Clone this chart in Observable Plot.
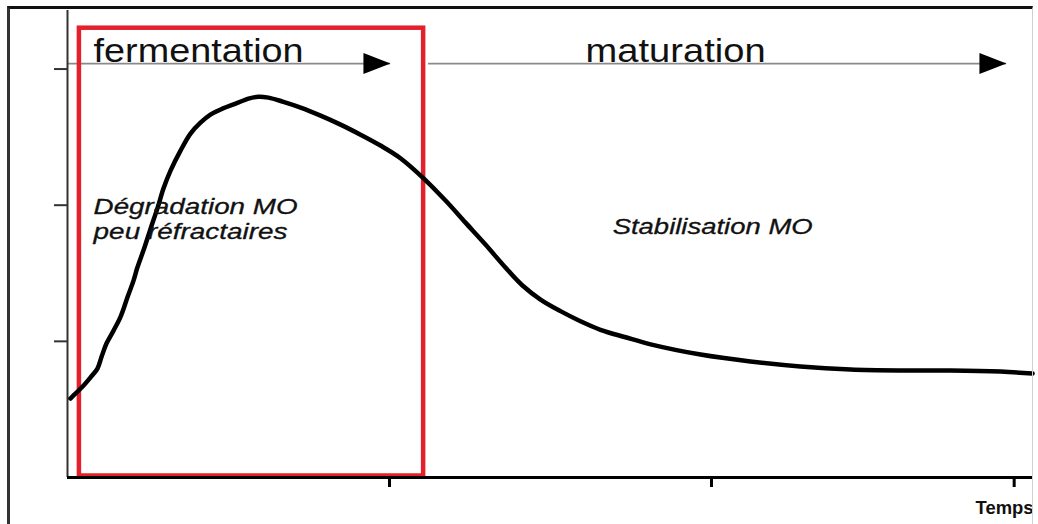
<!DOCTYPE html>
<html>
<head>
<meta charset="utf-8">
<script src="https://cdn.jsdelivr.net/npm/d3@7"></script>
<script src="https://cdn.jsdelivr.net/npm/@observablehq/plot@0.6"></script>
<style>
  html, body { margin: 0; padding: 0; background: #fff; overflow: hidden; }
  #wrap { position: relative; width: 1038px; height: 524px; }
  #frame { position: absolute; left: 7px; top: 6px; width: 1026px; height: 530px;
           border-top: 3px solid #111; border-left: 3px solid #333; border-right: 1px solid #d0d0d0;
           pointer-events: none; box-sizing: border-box; }
</style>
</head>
<body>
<div id="wrap"><div id="frame"></div></div>
<script>
// ---- data ----
const timeX = [0.009,0.028,0.047,0.071,0.093,0.106,0.121,0.143,0.165,0.186,0.205,0.217,0.239,0.258,0.280,0.298,0.320,0.351,0.382,0.413,0.444,0.481,0.522,0.562,0.593,0.624,0.668,0.724,0.786,0.848,0.910,0.972,1.034,1.109,1.174,1.236,1.298,1.360,1.413,1.469,1.531,1.593,1.655,1.733,1.811,1.966,2.121,2.276,2.432,2.587,2.742,2.898,2.997];
const activityY = [0.580,0.624,0.668,0.734,0.800,0.888,0.984,1.079,1.182,1.322,1.446,1.542,1.689,1.828,1.982,2.122,2.254,2.401,2.526,2.606,2.665,2.709,2.746,2.783,2.797,2.790,2.761,2.717,2.658,2.592,2.518,2.438,2.345,2.190,2.034,1.872,1.711,1.542,1.410,1.307,1.222,1.148,1.085,1.030,0.978,0.903,0.852,0.815,0.793,0.786,0.786,0.778,0.764];

const xTicks = [1, 2, 2.94];
const yTicks = [1, 2, 3];

const phaseNames = ["fermentation", "maturation"];
const phaseStart = [0, 1.121];
const phaseEnd = [1.003, 2.916];
const phaseLabelX = [0.081, 1.609];
const phaseY = 3.04;
const phaseLabelY = 3.054;

const processLabels = ["Dégradation MO", "peu réfractaires", "Stabilisation MO"];
const processLabelX = [0.081, 0.081, 1.693];
const processLabelY = [1.938, 1.755, 1.791];

const boxX = [0.037, 1.106];
const boxY = [0.011, 3.30];

const xLabel = "Temps";

// ---- styles (sizes) ----
const textWidths = {"fermentation": 210, "maturation": 180, "Dégradation MO": 204,
  "peu réfractaires": 194, "Stabilisation MO": 200, "Temps": 58};

const curve = timeX.map((x, i) => ({x, y: activityY[i]}));
const phases = phaseNames.map((name, i) => ({name, x1: phaseStart[i], x2: phaseEnd[i], lx: phaseLabelX[i]}));
const labels = processLabels.map((t, i) => ({t, x: processLabelX[i], y: processLabelY[i]}));
const box = [{x1: boxX[0], x2: boxX[1], y1: boxY[0], y2: boxY[1]}];

const arrowHead = {
  draw(ctx) { ctx.moveTo(0, 0); ctx.lineTo(-27, -10.5); ctx.lineTo(-27, 10.5); ctx.closePath(); }
};

const font = "'Liberation Sans', Arial, sans-serif";

const chart = Plot.plot({
  width: 1038, height: 524,
  marginLeft: 67, marginRight: 5, marginTop: 10, marginBottom: 47,
  x: {domain: [0, 3]},
  y: {domain: [0, 3.43]},
  style: {fontFamily: font, background: "transparent", overflow: "visible"},
  marks: [
    Plot.ruleY(phases, {y: phaseY, x1: "x1", x2: "x2", stroke: "#8a8a8a", strokeWidth: 1.6}),
    Plot.dot(phases, {x: "x2", y: phaseY, symbol: arrowHead, fill: "#000", stroke: null}),
    Plot.rect(box, {x1: "x1", x2: "x2", y1: "y1", y2: "y2", fill: "none", stroke: "#e3202b", strokeWidth: 4.5}),
    Plot.ruleX([0], {stroke: "#333", strokeWidth: 2}),
    Plot.ruleY([0], {stroke: "#000", strokeWidth: 3}),
    Plot.axisY(yTicks, {tickSize: 13, tickFormat: () => "", label: null, stroke: "#333", strokeWidth: 2}),
    Plot.axisX(xTicks, {tickSize: 10, tickFormat: () => "", label: null, stroke: "#000", strokeWidth: 3}),
    Plot.line(curve, {x: "x", y: "y", curve: "catmull-rom", stroke: "#000", strokeWidth: 4.5, strokeLinejoin: "round", strokeLinecap: "round"}),
    Plot.text(phases, {x: "lx", y: phaseLabelY, text: "name", textAnchor: "start", lineAnchor: "bottom", fontSize: 34, fill: "#111"}),
    Plot.text(labels, {x: "x", y: "y", text: "t", textAnchor: "start", lineAnchor: "bottom", fontSize: 22, fontStyle: "italic", fill: "#111", stroke: "#111", strokeWidth: 0.3}),
    Plot.text([xLabel], {frameAnchor: "bottom-right", text: d => d, textAnchor: "end", lineAnchor: "bottom", dy: 36, fontSize: 18, fontWeight: "bold", fill: "#111"})
  ]
});

d3.select(chart).selectAll("text").each(function() {
  const w = textWidths[this.textContent];
  if (w) { this.setAttribute("textLength", w); this.setAttribute("lengthAdjust", "spacingAndGlyphs"); }
});

chart.style.position = "absolute";
chart.style.left = "0px";
chart.style.top = "0px";
document.getElementById("wrap").prepend(chart);
</script>
</body>
</html>
